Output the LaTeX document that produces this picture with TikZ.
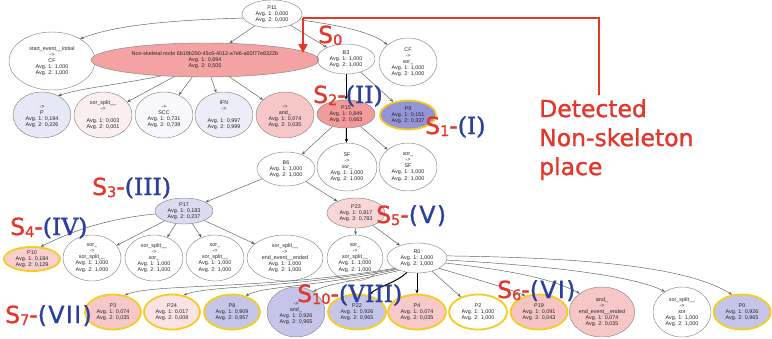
\documentclass[tikz,border=0pt]{standalone}
\usepackage{fontspec}
\setmainfont{Liberation Sans}
\newfontfamily\lblsans[FakeBold=1.2]{DejaVu Sans}
\newfontfamily\romsans[LetterSpace=6,FakeBold=1.2]{DejaVu Sans}
\newfontfamily\romserif[FakeBold=1.6]{DejaVu Serif}
\usetikzlibrary{shapes.geometric,arrows.meta}
\definecolor{sred}{HTML}{E3372C}
\definecolor{sblue}{HTML}{2B3F9E}
\definecolor{ygold}{HTML}{F5CC1F}
\definecolor{edgec}{HTML}{5A5A5A}
\definecolor{nodeline}{HTML}{858585}
\definecolor{cNS}{HTML}{F4A2A2}
\definecolor{cP15}{HTML}{F39A9A}
\definecolor{cP9}{HTML}{9494D8}
\definecolor{cP}{HTML}{E7E7F5}
\definecolor{cXS}{HTML}{FBEEEE}
\definecolor{cSCC}{HTML}{F8F8FC}
\definecolor{cIFN}{HTML}{EDEDF8}
\definecolor{cAND}{HTML}{F7C6C6}
\definecolor{cP17}{HTML}{DADAF1}
\definecolor{cP23}{HTML}{FAD6D6}
\definecolor{cP10}{HTML}{F8CFCF}
\definecolor{cP3}{HTML}{F7C8C8}
\definecolor{cP24}{HTML}{FBE3E3}
\definecolor{cBlue}{HTML}{C5C5EA}
\definecolor{cP4}{HTML}{F7C9C9}
\definecolor{cP19}{HTML}{F7C4C4}
\newcommand\ssub[1]{\raisebox{-2pt}{\fontsize{14.5}{14.5}\selectfont #1}}
\newcommand\Sl[1]{\textcolor{sred}{S\ssub{#1}-}}
\newcommand\rserif[1]{\textcolor{sblue}{\romserif(#1)}}
\newcommand\rsans[1]{\textcolor{sblue}{\romsans(#1)}}
\begin{document}
\begin{tikzpicture}[x=1pt,y=-1pt]
\tikzset{
 pl/.style={ellipse, draw=nodeline, line width=0.45pt, inner sep=0pt, align=center,
   font=\fontsize{5.4}{6.1}\selectfont, text=black!85},
 sz/.style 2 args={minimum width=#1pt, minimum height=#2pt},
 hl/.style={draw=ygold, line width=1.8pt},
 ed/.style={draw=edgec, line width=0.45pt, -{Stealth[length=3.6pt,width=2.8pt]}},
 bed/.style={draw=black, line width=1pt, -{Stealth[length=4pt,width=3.2pt]}},
 redline/.style={draw=sred, line width=2pt},
 slab/.style={anchor=base west, inner sep=0pt, font=\fontsize{23.5}{23.5}\lblsans},
}
\useasboundingbox (0,0) rectangle (772,338);

% row 0/1
\node[pl, sz={60}{28}] (P11) at (272,14) {P11\\Avg. 1: 0,000\\Avg. 2: 0,000};
\node[pl, sz={86}{58}] (start) at (52,61) {start\_event\_\_initial\\->\\CF\\Avg. 1: 1,000\\Avg. 2: 1,000};
\node[pl, sz={228}{34}, fill=cNS] (NS) at (205,60) {Non-skeletal node 6b19b290-45c6-4012-a7e6-a60f77e8322b\\Avg. 1: 0,694\\Avg. 2: 0,505};
\node[pl, sz={58}{30}] (B3) at (346,59) {B3\\Avg. 1: 1,000\\Avg. 2: 1,000};
\node[pl, sz={58}{48}] (CF) at (408,62) {CF\\->\\xor\_\\Avg. 1: 1,000\\Avg. 2: 1,000};

% row 2
\node[pl, sz={58}{46}, fill=cP] (rP) at (42,115) {\mbox{}\\->\\P\\Avg. 1: 0,194\\Avg. 2: 0,226};
\node[pl, sz={58}{46}, fill=cXS] (rX) at (103,115) {xor\_split\_\_\\->\\\mbox{}\\Avg. 1: 0,003\\Avg. 2: 0,001};
\node[pl, sz={58}{46}, fill=cSCC] (rS) at (164,115) {\mbox{}\\->\\SCC\\Avg. 1: 0,731\\Avg. 2: 0,739};
\node[pl, sz={58}{46}, fill=cIFN] (rI) at (224,115) {IFN\\->\\\mbox{}\\Avg. 1: 0,997\\Avg. 2: 0,999};
\node[pl, sz={58}{46}, fill=cAND] (rA) at (285,115) {\mbox{}\\->\\and\_\\Avg. 1: 0,074\\Avg. 2: 0,035};
\node[pl, sz={58}{28}, fill=cP15] (P15) at (346,114) {P15\\Avg. 1: 0,849\\Avg. 2: 0,663};
\node[pl, hl, sz={56}{29}, fill=cP9] (P9) at (408,115) {P9\\Avg. 1: 0,151\\Avg. 2: 0,337};

% row 3
\node[pl, sz={58}{34}] (B6) at (286,169) {B6\\Avg. 1: 1,000\\Avg. 2: 1,000};
\node[pl, sz={60}{48}] (SF) at (347,167) {SF\\->\\xor\_\\Avg. 1: 1,000\\Avg. 2: 1,000};
\node[pl, sz={58}{48}] (xSF) at (408,167) {xor\_\\->\\SF\\Avg. 1: 1,000\\Avg. 2: 1,000};

% row 4
\node[pl, sz={58}{26}, fill=cP17] (P17) at (184,211) {P17\\Avg. 1: 0,183\\Avg. 2: 0,237};
\node[pl, sz={58}{30}, fill=cP23] (P23) at (356,213) {P23\\Avg. 1: 0,817\\Avg. 2: 0,783};

% row 5
\node[pl, hl, sz={56}{24}, fill=cP10] (P10) at (32,259) {P10\\Avg. 1: 0,184\\Avg. 2: 0,129};
\node[pl, sz={58}{46}] (x1) at (92,258) {xor\_\\->\\xor\_split\_\_\\Avg. 1: 1,000\\Avg. 2: 1,000};
\node[pl, sz={58}{46}] (x2) at (154,258) {xor\_split\_\_\\->\\xor\_\\Avg. 1: 1,000\\Avg. 2: 1,000};
\node[pl, sz={58}{46}] (x3) at (215,258) {xor\_\\->\\xor\_split\_\_\\Avg. 1: 1,000\\Avg. 2: 1,000};
\node[pl, sz={76}{46}] (x4) at (285,258) {xor\_split\_\_\\->\\end\_event\_\_ended\\Avg. 1: 1,000\\Avg. 2: 1,000};
\node[pl, sz={56}{46}] (x5) at (355,258) {xor\_\\->\\xor\_split\_\_\\Avg. 1: 1,000\\Avg. 2: 1,000};
\node[pl, sz={60}{30}] (R0) at (417,258) {R0\\Avg. 1: 1,000\\Avg. 2: 1,000};

% row 6
\node[pl, hl, sz={56}{35}, fill=cP3] (P3) at (113,312) {P3\\Avg. 1: 0,074\\Avg. 2: 0,035};
\node[pl, hl, sz={56}{35}, fill=cP24] (P24) at (172,312) {P24\\Avg. 1: 0,017\\Avg. 2: 0,008};
\node[pl, hl, sz={56}{35}, fill=cBlue] (P8) at (232,312) {P8\\Avg. 1: 0,909\\Avg. 2: 0,957};
\node[pl, sz={58}{50}, fill=cBlue] (aB) at (296,312) {\mbox{}\\->\\and\_\\Avg. 1: 0,926\\Avg. 2: 0,965};
\node[pl, hl, sz={58}{35}, fill=cBlue] (P22) at (357,312) {P22\\Avg. 1: 0,926\\Avg. 2: 0,965};
\node[pl, hl, sz={58}{35}, fill=cP4] (P4) at (417,312) {P4\\Avg. 1: 0,074\\Avg. 2: 0,035};
\node[pl, hl, sz={58}{35}, fill=white] (P2) at (478,312) {P2\\Avg. 1: 1,000\\Avg. 2: 1,000};
\node[pl, hl, sz={57}{35}, fill=cP19] (P19) at (539,312) {P19\\Avg. 1: 0,091\\Avg. 2: 0,043};
\node[pl, sz={62}{50}, fill=cAND] (aE) at (602,312) {and\_\\->\\end\_event\_\_ended\\Avg. 1: 0,074\\Avg. 2: 0,035};
\node[pl, sz={58}{50}] (xx) at (682,312) {xor\_split\_\_\\->\\xor\\Avg. 1: 1,000\\Avg. 2: 1,000};
\node[pl, hl, sz={57}{35}, fill=cBlue] (P0) at (742,312) {P0\\Avg. 1: 0,926\\Avg. 2: 0,965};

% edges
\draw[ed] (P11.188) .. controls +(-70,2) and +(35,-14) .. (start.38);
\draw[ed] (P11) -- (NS);
\draw[ed] (P11) -- (B3);
\draw[ed] (P11.-12) .. controls +(45,6) and +(-15,-12) .. (CF.140);
\draw[ed] (NS.200) .. controls +(-50,10) and +(25,-8) .. (rP.50);
\draw[ed] (NS) -- (rX);
\draw[ed] (NS) -- (rS);
\draw[ed] (NS) -- (rI);
\draw[ed] (NS) -- (rA);
\draw[bed] (B3) -- (P15);
\draw[ed] (B3) -- (P9);
\draw[ed] (P15) -- (B6);
\draw[bed] (P15) -- (SF);
\draw[ed] (P15) -- (xSF);
\draw[ed] (B6) -- (P17);
\draw[ed] (B6) -- (P23);
\draw[ed] (P17.186) .. controls +(-55,5) and +(25,-12) .. (P10.55);
\draw[ed] (P17) -- (x1);
\draw[ed] (P17) -- (x2);
\draw[ed] (P17) -- (x3);
\draw[ed] (P17) -- (x4);
\draw[ed] (P23) -- (x5);
\draw[ed] (P23) -- (R0);
\draw[ed] (R0.205) .. controls +(-135,22) and +(30,-12) .. (P3.55);
\draw[ed] (R0.207) .. controls +(-110,20) and +(25,-10) .. (P24.55);
\draw[ed] (R0.210) .. controls +(-85,18) and +(20,-10) .. (P8.50);
\draw[ed] (R0.215) .. controls +(-50,12) and +(15,-8) .. (aB.50);
\draw[bed] (R0.235) .. controls +(-10,10) and +(8,-8) .. (P22.55);
\draw[bed] (R0) -- (P4);
\draw[ed] (R0) -- (P2);
\draw[ed] (R0.-25) .. controls +(40,12) and +(-25,-10) .. (P19.130);
\draw[ed] (R0.-10) .. controls +(70,8) and +(-30,-15) .. (aE.140);
\draw[ed] (R0.-4) .. controls +(110,6) and +(-30,-15) .. (xx.130);
\draw[ed] (R0.4) .. controls +(160,2) and +(-40,-25) .. (P0.120);

% red annotation
\coordinate (rs) at (303,18);
\coordinate (rc) at (599,18);
\coordinate (re) at (599,95);
\coordinate (ra) at (303,53);
\draw[redline] (rs) -- (rc) -- (re);
\draw[redline, -{Triangle[length=9pt,width=9pt]}] (rs) -- (ra);
\node[anchor=north west, inner sep=0pt, align=left, text=sred,
  font=\fontsize{23.5}{29}\lblsans] (det) at (539,99) {Detected\\Non-skeleton\\place};

% state labels
\node[slab] (s0) at (318,43) {\textcolor{sred}{S\ssub{0}}};
\node[slab] (s2) at (313,103) {\Sl{2}\rserif{II}};
\node[slab] (s1) at (425,134) {\Sl{1}\rserif{I}};
\node[slab] (s3) at (92,195) {\Sl{3}\rserif{III}};
\node[slab] (s4) at (10,235) {\Sl{4}\rserif{IV}};
\node[slab] (s5) at (376,223) {\Sl{5}\rsans{V}};
\node[slab] (s6) at (497,298) {\Sl{6}\rsans{VI}};
\node[slab] (s7) at (5,323) {\Sl{7}\rsans{VII}};
\node[slab] (s10) at (297,302) {\Sl{10}\rserif{VIII}};
\end{tikzpicture}
\end{document}
